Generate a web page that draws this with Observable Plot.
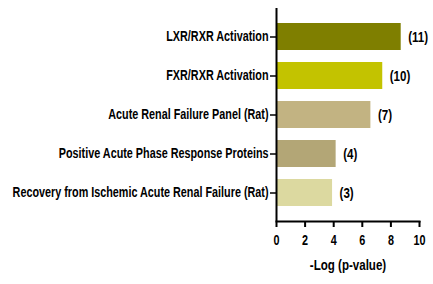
<!DOCTYPE html>
<html>
<head>
<meta charset="utf-8">
<script src="https://cdn.jsdelivr.net/npm/d3@7"></script>
<script src="https://cdn.jsdelivr.net/npm/@observablehq/plot@0.6"></script>
<style>
  html, body { margin: 0; padding: 0; background: #fff; }
  svg { display: block; }
</style>
</head>
<body>
<div id="chart"></div>
<script>
const pathways = [
  "LXR/RXR Activation",
  "FXR/RXR Activation",
  "Acute Renal Failure Panel (Rat)",
  "Positive Acute Phase Response Proteins",
  "Recovery from Ischemic Acute Renal Failure (Rat)"
];
const logP = [8.72, 7.43, 6.6, 4.17, 3.92];
const geneCounts = [11, 10, 7, 4, 3];
const barColors = ["#7f7f00", "#c3c300", "#c2b382", "#b3a676", "#dcd9a0"];
const xTicks = [0, 2, 4, 6, 8, 10];
const xLabel = "-Log (p-value)";

const data = pathways.map((p, i) => ({pathway: p, value: logP[i], count: geneCounts[i], color: barColors[i]}));

const font = "'Liberation Sans', Arial, sans-serif";

const chart = Plot.plot({
  width: 433,
  height: 284,
  marginLeft: 276,
  marginRight: 14,
  marginTop: 8,
  marginBottom: 63,
  style: {fontFamily: font, fontSize: "14px", fontWeight: "bold", color: "#000", background: "#fff"},
  x: {domain: [0, 10], ticks: xTicks},
  y: {domain: pathways, paddingInner: 0.3, paddingOuter: 0.35},
  marks: [
    Plot.barX(data, {y: "pathway", x: "value", fill: "color"}),
    Plot.text(data, {y: "pathway", x: "value", text: d => `(${d.count})`, textAnchor: "start", dx: 7, fontSize: 15, fontWeight: "bold", fill: "#000"}),
    Plot.ruleX([0], {stroke: "#000", strokeWidth: 2}),
    Plot.frame({anchor: "bottom", stroke: "#000", strokeWidth: 2}),
    Plot.axisY({tickSize: 6, tickPadding: 2, label: null, fontSize: 14, fontWeight: "bold", strokeWidth: 1.5}),
    Plot.axisX({ticks: xTicks, tickSize: 6, tickPadding: 8, label: null, fontSize: 14, fontWeight: "bold", strokeWidth: 2}),
    Plot.text([xLabel], {frameAnchor: "bottom", dy: 48, fontSize: 15, fontWeight: "bold", fill: "#000"})
  ]
});
document.getElementById("chart").appendChild(chart);

// The reference uses a condensed bold face: compress every text horizontally about its own anchor
const yLabels = Array.from(chart.querySelectorAll('g[aria-label="y-axis tick label"] text'));
const longest = d3.max(yLabels, t => t.getComputedTextLength());
const k = 256 / longest;
chart.querySelectorAll("text").forEach(t => {
  const x = +t.getAttribute("x") || 0;
  const tr = t.getAttribute("transform") || "";
  t.setAttribute("transform", `${tr} translate(${x},0) scale(${k},1) translate(${-x},0)`.trim());
});
</script>
</body>
</html>
